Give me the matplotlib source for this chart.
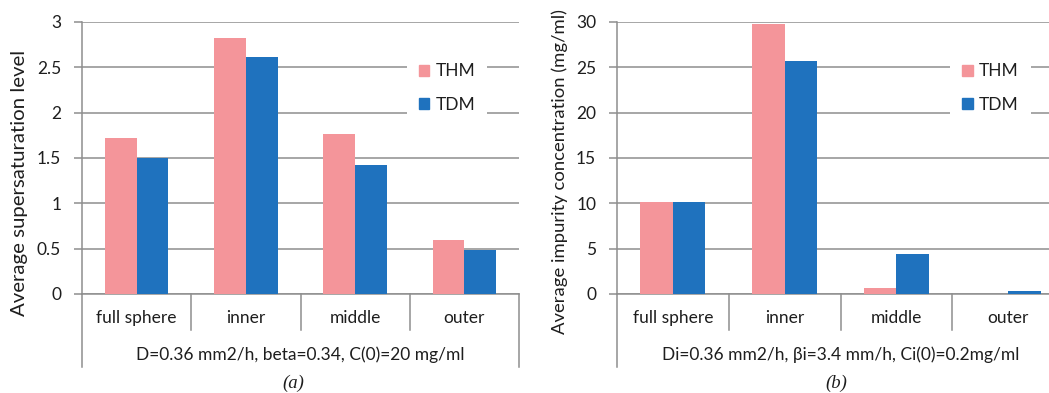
import numpy as np
import matplotlib.pyplot as plt
from matplotlib.patches import Patch

plt.rcParams['font.family'] = ['Lato', 'DejaVu Sans']

categories = ['full sphere', 'inner', 'middle', 'outer']
series_names = ['THM', 'TDM']

# panel (a): average supersaturation level
super_thm = [1.72, 2.82, 1.76, 0.60]
super_tdm = [1.50, 2.61, 1.42, 0.48]

# panel (b): average impurity concentration (mg/ml)
impur_thm = [10.1, 29.8, 0.66, 0.0]
impur_tdm = [10.15, 25.7, 4.45, 0.35]

colors = ['#F4959A', '#1F72BE']
grid_c = '#8E8E8E'
text_c = '#1E1E1E'

W, H = 1049, 393
fig = plt.figure(figsize=(W / 100, H / 100), dpi=100)
top_px, zero_px = 22, 294


def panel(left_px, width_px, thm, tdm, ymax, step, ylabel, group_text, tag, tag_x):
    ax = fig.add_axes([left_px / W, (H - zero_px) / H, width_px / W,
                       (zero_px - top_px) / H])
    x = np.arange(len(categories))
    bw = 0.29
    ax.bar(x - bw / 2, thm, bw, color=colors[0], zorder=3)
    ax.bar(x + bw / 2, tdm, bw, color=colors[1], zorder=3)
    ax.set_xlim(-0.5, len(categories) - 0.5)
    ax.set_ylim(0, ymax)
    ticks = np.arange(0, ymax + step / 2, step)
    ax.set_yticks(ticks)
    ax.set_yticklabels(['%g' % t for t in ticks])
    ax.yaxis.grid(True, color=grid_c, lw=1.1, zorder=0)
    ax.set_xticks([])
    for s in ['top', 'right']:
        ax.spines[s].set_visible(False)
    for s in ['left', 'bottom']:
        ax.spines[s].set_color(grid_c)
        ax.spines[s].set_linewidth(1.1)
    ax.tick_params(axis='y', length=6, width=1.1, color=grid_c, pad=9,
                   labelsize=12.5, labelcolor=text_c)
    ax.set_ylabel(ylabel, fontsize=13.5, color=text_c)

    h = zero_px - top_px
    # lines below the axis
    tr = ax.get_xaxis_transform()
    deep = -(367 - zero_px) / h
    shallow = -(330 - zero_px) / h
    for xv in [-0.5, len(categories) - 0.5]:
        ax.plot([xv, xv], [0, deep], transform=tr, color=grid_c, lw=1.1,
                clip_on=False)
    for xv in np.arange(0.5, len(categories) - 0.5):
        ax.plot([xv, xv], [0, shallow], transform=tr, color=grid_c, lw=1.1,
                clip_on=False)
    for xi, c in zip(x, categories):
        ax.text(xi, -(318 - zero_px) / h, c, transform=tr, ha='center',
                va='center', fontsize=12.5, color=text_c)
    ax.text(0.5, -(355 - zero_px) / h, group_text, transform=ax.transAxes,
            ha='center', va='center', fontsize=12.5, color=text_c)
    fig.text(tag_x / W, 1 - 383 / H, tag, ha='center', va='center',
             fontsize=13.5, family='Liberation Serif', style='italic',
             color=text_c)

    handles = [Patch(color=colors[0]), Patch(color=colors[1])]
    leg = ax.legend(handles, series_names, loc='center',
                    bbox_to_anchor=(0.835, 0.757), fontsize=12.5,
                    frameon=True, facecolor='white', edgecolor='none',
                    framealpha=1, fancybox=False, handlelength=0.6,
                    handleheight=0.6, handletextpad=0.35, labelspacing=1.0,
                    borderpad=0.7)
    for t in leg.get_texts():
        t.set_color(text_c)
    leg.set_zorder(5)
    return ax


def fit_ylabel(ax, left_px, width_px, cx_px, cy_px, length_px):
    # size the y label to the length it has in the reference
    lab = ax.yaxis.label
    lab.set_va('center')
    fig.canvas.draw()
    ext = lab.get_window_extent()
    lab.set_fontsize(lab.get_fontsize() * length_px / ext.height)
    h = zero_px - top_px
    ax.yaxis.set_label_coords((cx_px - left_px) / width_px,
                              (zero_px - cy_px) / h)


ax_a = panel(82, 437, super_thm, super_tdm, 3, 0.5,
             'Average supersaturation level',
             'D=0.36 mm2/h, beta=0.34, C(0)=20 mg/ml', '(a)', 293)
ax_b = panel(617, 447, impur_thm, impur_tdm, 30, 5,
             'Average impurity concentration (mg/ml)',
             'Di=0.36 mm2/h, \u03b2i=3.4 mm/h, Ci(0)=0.2mg/ml', '(b)', 836)

fit_ylabel(ax_a, 82, 437, 20, 183, 267)
fit_ylabel(ax_b, 617, 447, 560, 171, 325)

fig.savefig('out.png', dpi=100)
